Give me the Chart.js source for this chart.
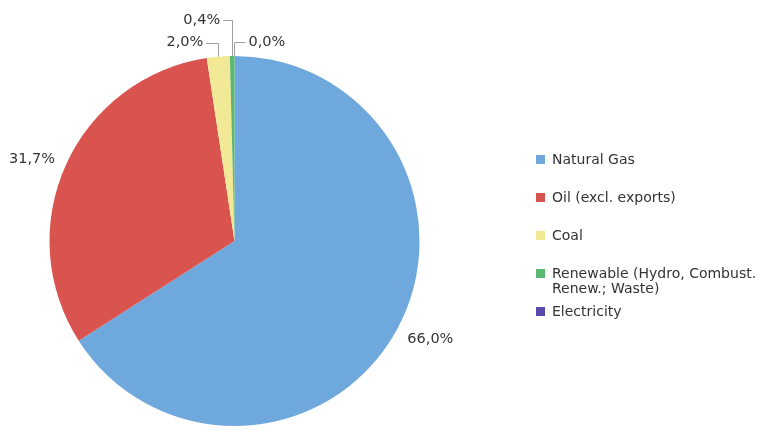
<!DOCTYPE html>
<html lang="en">
<head>
    <meta charset="UTF-8">
    <title>Energy mix</title>
    <script src="https://cdn.jsdelivr.net/npm/chart.js"></script>
    <style>
        body { margin: 0; background: #fff; font-family: "DejaVu Sans", Verdana, sans-serif; }
        #wrap { position: relative; width: 760px; height: 430px; }
        #legend { position: absolute; left: 536px; top: 152px; width: 222px; margin: 0; padding: 0; list-style: none; }
        #legend li { position: relative; padding-left: 16px; font-size: 14px; line-height: 15px; color: #333; margin-bottom: 23px; }
        #legend li.multi { margin-bottom: 8px; }
        #legend li span.box { position: absolute; left: 0; top: 3px; width: 9px; height: 9px; }
    </style>
</head>
<body>
    <div id="wrap">
        <canvas id="pieChart" width="760" height="430"></canvas>
        <ul id="legend"></ul>
    </div>

    <script>
        const categories = ['Natural Gas', 'Oil (excl. exports)', 'Coal', 'Renewable (Hydro, Combust. Renew.; Waste)', 'Electricity'];
        const shares = [66.0, 31.7, 2.0, 0.4, 0.0];
        const colors = ['#6fa8dc', '#d9534f', '#f1e996', '#5cb870', '#5a4aab'];

        // label placement for the thin slices: rise above the rim, then run sideways
        const leaders = { 2: { rise: 14, run: -12 }, 3: { rise: 36, run: -9 }, 4: { rise: 14, run: 11 } };

        const fmt = v => v.toFixed(1).replace('.', ',') + '%';

        const labelPlugin = {
            id: 'sliceLabels',
            afterDatasetsDraw(chart) {
                const ctx = chart.ctx;
                const meta = chart.getDatasetMeta(0);
                ctx.save();
                ctx.font = '14.5px "DejaVu Sans", Verdana, sans-serif';
                ctx.fillStyle = '#333';
                ctx.strokeStyle = '#a0a0a0';
                ctx.lineWidth = 1;
                ctx.textBaseline = 'middle';
                meta.data.forEach((arc, i) => {
                    const p = arc.getProps(['x', 'y', 'startAngle', 'endAngle', 'outerRadius'], true);
                    const mid = (p.startAngle + p.endAngle) / 2;
                    const ex = p.x + Math.cos(mid) * p.outerRadius;
                    const ey = p.y + Math.sin(mid) * p.outerRadius;
                    const text = fmt(shares[i]);
                    const ld = leaders[i];
                    if (ld) {
                        const ty = ey - ld.rise;
                        const tx = ex + ld.run;
                        ctx.beginPath();
                        ctx.moveTo(Math.round(ex) + 0.5, ey);
                        ctx.lineTo(Math.round(ex) + 0.5, Math.round(ty) + 0.5);
                        ctx.lineTo(tx, Math.round(ty) + 0.5);
                        ctx.stroke();
                        ctx.textAlign = ld.run < 0 ? 'right' : 'left';
                        ctx.fillText(text, tx + (ld.run < 0 ? -3 : 3), ty);
                    } else {
                        const r = p.outerRadius + 12;
                        const lx = p.x + Math.cos(mid) * r;
                        const ly = p.y + Math.sin(mid) * r;
                        ctx.textAlign = Math.cos(mid) < 0 ? 'right' : 'left';
                        ctx.fillText(text, lx, ly + (Math.sin(mid) > 0 ? 4 : 0));
                    }
                });
                ctx.restore();
            }
        };

        new Chart(document.getElementById('pieChart'), {
            type: 'pie',
            data: {
                labels: categories,
                datasets: [{
                    data: shares,
                    backgroundColor: colors,
                    borderWidth: 0
                }]
            },
            options: {
                responsive: false,
                animation: false,
                events: [],
                layout: { padding: { left: 49, right: 340, top: 56, bottom: 4 } },
                plugins: {
                    legend: { display: false },
                    tooltip: { enabled: false }
                }
            },
            plugins: [labelPlugin]
        });

        // html legend
        const ul = document.getElementById('legend');
        categories.forEach((name, i) => {
            const li = document.createElement('li');
            if (name.length > 30) li.className = 'multi';
            const box = document.createElement('span');
            box.className = 'box';
            box.style.background = colors[i];
            li.appendChild(box);
            li.appendChild(document.createTextNode(name));
            ul.appendChild(li);
        });
    </script>
</body>
</html>
